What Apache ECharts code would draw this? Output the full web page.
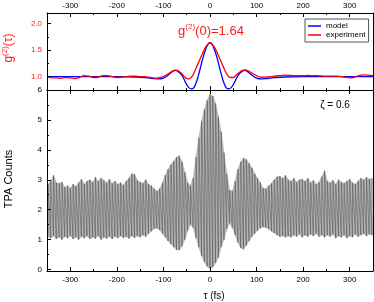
<!DOCTYPE html>
<html><head><meta charset="utf-8">
<script src="https://cdn.jsdelivr.net/npm/echarts@6/dist/echarts.min.js"></script>
<style>html,body{margin:0;padding:0;background:#fff}#c{width:374px;height:302px}</style>
</head><body><div id="c"></div>
<script>
// ---- tick labels ----
const xTickLabels = [-300,-200,-100,0,100,200,300];
const xMinorTicks = [-350,-250,-150,-50,50,150,250,350];
const g2TickLabels = [1.0,1.5,2.0];
const g2MinorTicks = [0.75,1.25,1.75];
const tpaTickLabels = [0,1,2,3,4,5,6];
const tpaMinorTicks = [0.5,1.5,2.5,3.5,4.5,5.5];

// ---- top panel: g2(tau) ----
const modelTau = [-350,-300,-250,-200,-160,-140,-130,-120,-110,-100,-90,-80,-75,-70,-60,-50,-45,-40,-35,-30,-25,-20,-15,-10,-5,0,5,10,15,20,25,30,35,40,45,50,60,70,75,80,90,100,110,120,130,140,160,200,250,300,350];
const modelG2 = [1.0,1.0,1.0,1.0,0.995,0.985,0.975,0.965,0.96,0.975,1.03,1.10,1.12,1.11,1.02,0.85,0.79,0.772,0.79,0.88,1.02,1.19,1.36,1.50,1.60,1.64,1.60,1.50,1.36,1.19,1.02,0.88,0.79,0.772,0.79,0.85,1.02,1.11,1.12,1.10,1.03,0.975,0.96,0.965,0.975,0.985,0.995,1.0,1.0,1.0,1.0];
const expTau = [-350,-340,-330,-320,-310,-300,-290,-280,-270,-260,-250,-240,-230,-220,-210,-200,-190,-180,-170,-160,-150,-140,-130,-120,-110,-100,-90,-80,-75,-70,-60,-55,-50,-45,-40,-35,-30,-25,-20,-15,-10,-5,0,5,10,15,20,25,30,35,40,45,50,55,60,70,75,80,90,100,110,120,130,140,150,160,170,180,190,200,210,220,230,240,250,260,270,280,290,300,310,320,330,340,350];
const expG2 = [1.0,0.98,0.98,0.97,0.985,0.98,0.965,0.99,1.02,1.01,0.985,0.99,1.02,1.02,1.00,0.985,0.99,1.0,1.01,1.01,1.0,1.0,0.99,0.975,0.98,1.0,1.05,1.11,1.125,1.12,1.05,1.0,0.965,0.96,0.99,1.06,1.16,1.26,1.36,1.46,1.55,1.61,1.64,1.61,1.55,1.46,1.36,1.26,1.16,1.07,1.0,0.985,0.985,1.02,1.06,1.12,1.13,1.12,1.07,1.02,0.99,0.995,1.0,1.015,1.02,1.03,1.025,1.02,1.02,1.02,1.025,1.02,1.02,1.015,1.01,1.01,1.01,1.005,0.99,0.98,0.99,1.02,1.035,1.03,1.02];

// ---- bottom panel: TPA fringes (upper / lower fringe extremes) ----
const tpaTau = [-348,-342,-336,-330,-324,-318,-312,-306,-300,-294,-288,-282,-276,-270,-264,-258,-252,-246,-240,-234,-228,-222,-216,-210,-204,-198,-192,-186,-180,-174,-168,-162,-156,-150,-144,-138,-132,-126,-120,-114,-108,-102,-96,-90,-84,-78,-72,-66,-60,-54,-48,-42,-36,-30,-24,-18,-12,-6,0,6,12,18,24,30,36,42,48,54,60,66,72,78,84,90,96,102,108,114,120,126,132,138,144,150,156,162,168,174,180,186,192,198,204,210,216,222,228,234,240,246,252,258,264,270,276,282,288,294,300,306,312,318,324,330,336,342,348];
const tpaUpper = [2.85,2.95,3.15,2.90,2.88,2.92,2.75,2.80,2.72,2.85,
2.78,2.90,3.02,2.85,2.95,3.00,2.92,3.08,2.95,3.05,
2.98,2.90,3.02,2.88,2.95,2.85,2.90,2.82,2.95,3.05,
3.20,3.18,2.98,2.92,2.88,3.00,2.85,2.80,2.70,2.62,
2.70,2.90,3.15,3.35,3.50,3.62,3.75,3.80,3.60,3.25,
2.90,2.80,3.05,3.75,4.40,4.95,5.35,5.65,5.85,5.80,
5.55,5.10,4.60,3.90,3.20,2.65,2.62,2.95,3.35,3.60,
3.72,3.68,3.55,3.40,3.20,3.05,2.90,2.72,2.70,2.80,
2.88,3.00,3.10,3.12,3.05,3.15,3.00,2.95,3.05,2.92,
3.00,3.02,2.95,3.05,2.90,2.98,2.85,2.92,3.10,3.30,
2.95,2.90,2.98,2.85,3.00,2.92,2.88,2.95,3.02,2.90,
2.85,2.95,3.05,3.00,3.08,3.02,3.05];
const tpaLower = [1.10,1.05,1.12,1.02,1.08,1.00,1.10,1.05,1.12,1.02,
1.08,1.00,1.10,1.05,1.12,1.02,1.08,1.04,1.12,1.00,
1.08,1.04,1.10,1.02,1.10,1.05,1.12,1.06,1.10,1.04,
1.12,1.06,1.12,1.08,1.15,1.10,1.20,1.28,1.36,1.38,
1.32,1.20,1.08,0.95,0.85,0.75,0.66,0.65,0.78,1.00,
1.30,1.50,1.40,1.05,0.75,0.45,0.25,0.10,0.03,0.08,
0.22,0.40,0.75,1.00,1.35,1.55,1.40,1.15,0.90,0.72,
0.68,0.80,0.95,1.10,1.20,1.30,1.38,1.42,1.40,1.35,
1.28,1.22,1.15,1.10,1.12,1.08,1.12,1.08,1.15,1.10,
1.18,1.08,1.15,1.10,1.18,1.12,1.20,1.10,1.15,1.08,
1.15,1.10,1.18,1.05,1.12,1.08,1.15,1.05,1.12,1.08,
1.18,1.10,1.15,1.20,1.12,1.18,1.15];

const FONT = '"Liberation Sans", Arial, Helvetica, sans-serif';
const RED = '#ff1a1a';

function xAx(grid, pos, ticks, len, labels, showLine) {
  return {
    type: 'value', gridIndex: grid, position: pos, min: -350, max: 350,
    axisLine: { show: showLine, onZero: false, lineStyle: { color: '#000', width: 1 } },
    axisTick: { show: true, inside: true, length: len, customValues: ticks, lineStyle: { color: '#000', width: 1 } },
    axisLabel: { show: !!labels, customValues: labels || ticks, fontSize: 8, color: '#000', fontFamily: FONT, margin: pos === 'top' ? 3 : 5 },
    splitLine: { show: false }, z: 10
  };
}
function yAx(grid, pos, min, max, ticks, len, labels, showLine, color, fmt) {
  return {
    type: 'value', gridIndex: grid, position: pos, min: min, max: max,
    axisLine: { show: showLine, onZero: false, lineStyle: { color: '#000', width: 1 } },
    axisTick: { show: ticks.length > 0, inside: true, length: len, customValues: ticks, lineStyle: { color: '#000', width: 1 } },
    axisLabel: { show: !!labels, customValues: labels || ticks, fontSize: 8, color: color || '#000', fontFamily: FONT, margin: 5, formatter: fmt },
    splitLine: { show: false }, z: 10
  };
}
const zip = (a, b) => a.map((v, i) => [v, b[i]]);
const fringe = [];
tpaTau.forEach((t, i) => { fringe.push([t, tpaLower[i]]); fringe.push([t, tpaUpper[i]]); });
const bandSegs = tpaTau.slice(0, -1).map((t, i) => [t, tpaLower[i], tpaUpper[i], tpaTau[i + 1], tpaLower[i + 1], tpaUpper[i + 1]]);

const chart = echarts.init(document.getElementById('c'), null, { renderer: 'canvas' });
chart.setOption({
  animation: false,
  textStyle: { fontFamily: FONT },
  grid: [
    { left: 47, right: 1, top: 13, height: 77 },
    { left: 47, right: 1, top: 90, bottom: 31 }
  ],
  xAxis: [
    xAx(0, 'top', xTickLabels, 4, xTickLabels, true),
    xAx(0, 'top', xMinorTicks, 2, null, false),
    xAx(0, 'bottom', xTickLabels, 4, null, true),
    xAx(0, 'bottom', xMinorTicks, 2, null, false),
    xAx(1, 'bottom', xTickLabels, 4, xTickLabels, true),
    xAx(1, 'bottom', xMinorTicks, 2, null, false),
    xAx(1, 'top', xTickLabels, 4, null, true),
    xAx(1, 'top', xMinorTicks, 2, null, false)
  ],
  yAxis: [
    yAx(0, 'left', 0.75, 2.2, g2TickLabels, 4, g2TickLabels, true, RED, v => (+v).toFixed(1)),
    yAx(0, 'left', 0.75, 2.2, g2MinorTicks, 2, null, false),
    yAx(1, 'left', -0.05, 6, tpaTickLabels, 4, tpaTickLabels, true),
    yAx(1, 'left', -0.05, 6, tpaMinorTicks, 2, null, false),
    yAx(0, 'right', 0.75, 2.2, [], 0, null, true),
    yAx(1, 'right', -0.05, 6, [], 0, null, true)
  ],
  legend: {
    data: ['model', 'experiment'], orient: 'vertical', left: 305, top: 19,
    icon: 'rect', itemWidth: 13, itemHeight: 1.5, itemGap: 1, padding: [3, 3, 3, 3],
    borderColor: '#555', borderWidth: 1, borderRadius: 0,
    textStyle: { fontSize: 8, color: '#000', fontFamily: FONT, lineHeight: 8 }
  },
  series: [
    { type: 'line', name: 'model', xAxisIndex: 0, yAxisIndex: 0, data: zip(modelTau, modelG2), smooth: 0.4, symbol: 'none',
      lineStyle: { color: '#0000ff', width: 1.3 }, itemStyle: { color: '#0000ff' }, z: 3 },
    { type: 'line', name: 'experiment', xAxisIndex: 0, yAxisIndex: 0, data: zip(expTau, expG2), smooth: 0.4, symbol: 'none',
      lineStyle: { color: '#ff0000', width: 1.3 }, itemStyle: { color: '#ff0000' }, z: 4 },
    { type: 'custom', xAxisIndex: 4, yAxisIndex: 2, data: bandSegs, silent: true, z: 2,
      encode: { x: [0, 3], y: [1, 2, 4, 5] },
      renderItem: (params, api) => {
        const a = api.coord([api.value(0), api.value(1)]);
        const b = api.coord([api.value(0), api.value(2)]);
        const c = api.coord([api.value(3), api.value(5)]);
        const d = api.coord([api.value(3), api.value(4)]);
        return { type: 'polygon', shape: { points: [a, b, c, d] }, style: { fill: '#b6b6b6', stroke: '#b6b6b6', lineWidth: 0.6 } };
      } },
    { type: 'line', xAxisIndex: 4, yAxisIndex: 2, data: fringe, symbol: 'none',
      lineStyle: { color: '#4a4a4a', width: 0.5 }, silent: true, z: 3 }
  ],
  graphic: [
    { type: 'text', x: 211, y: 30, style: {
        text: '{a|g}{b|(2)}{a|(0)=1.64}', align: 'center', verticalAlign: 'middle',
        rich: { a: { fontSize: 13, fill: RED, fontFamily: FONT, verticalAlign: 'bottom', lineHeight: 15 },
                b: { fontSize: 8, fill: RED, fontFamily: FONT, verticalAlign: 'top', lineHeight: 9 } } } },
    { type: 'text', x: 8, y: 48, rotation: Math.PI / 2, style: {
        text: '{a|g}{b|(2)}{a|(τ)}', align: 'center', verticalAlign: 'middle',
        rich: { a: { fontSize: 12, fill: RED, fontFamily: FONT, verticalAlign: 'bottom', lineHeight: 14 },
                b: { fontSize: 8, fill: RED, fontFamily: FONT, verticalAlign: 'top', lineHeight: 9 } } } },
    { type: 'text', x: 9, y: 179, rotation: Math.PI / 2, style: {
        text: 'TPA Counts', align: 'center', verticalAlign: 'middle', fontSize: 11, fill: '#000', fontFamily: FONT } },
    { type: 'text', x: 214, y: 296, style: {
        text: 'τ (fs)', align: 'center', verticalAlign: 'middle', fontSize: 10, fill: '#000', fontFamily: FONT } },
    { type: 'text', x: 335, y: 105, style: {
        text: 'ζ = 0.6', align: 'center', verticalAlign: 'middle', fontSize: 10, fill: '#000', fontFamily: FONT } }
  ]
});
</script></body></html>
